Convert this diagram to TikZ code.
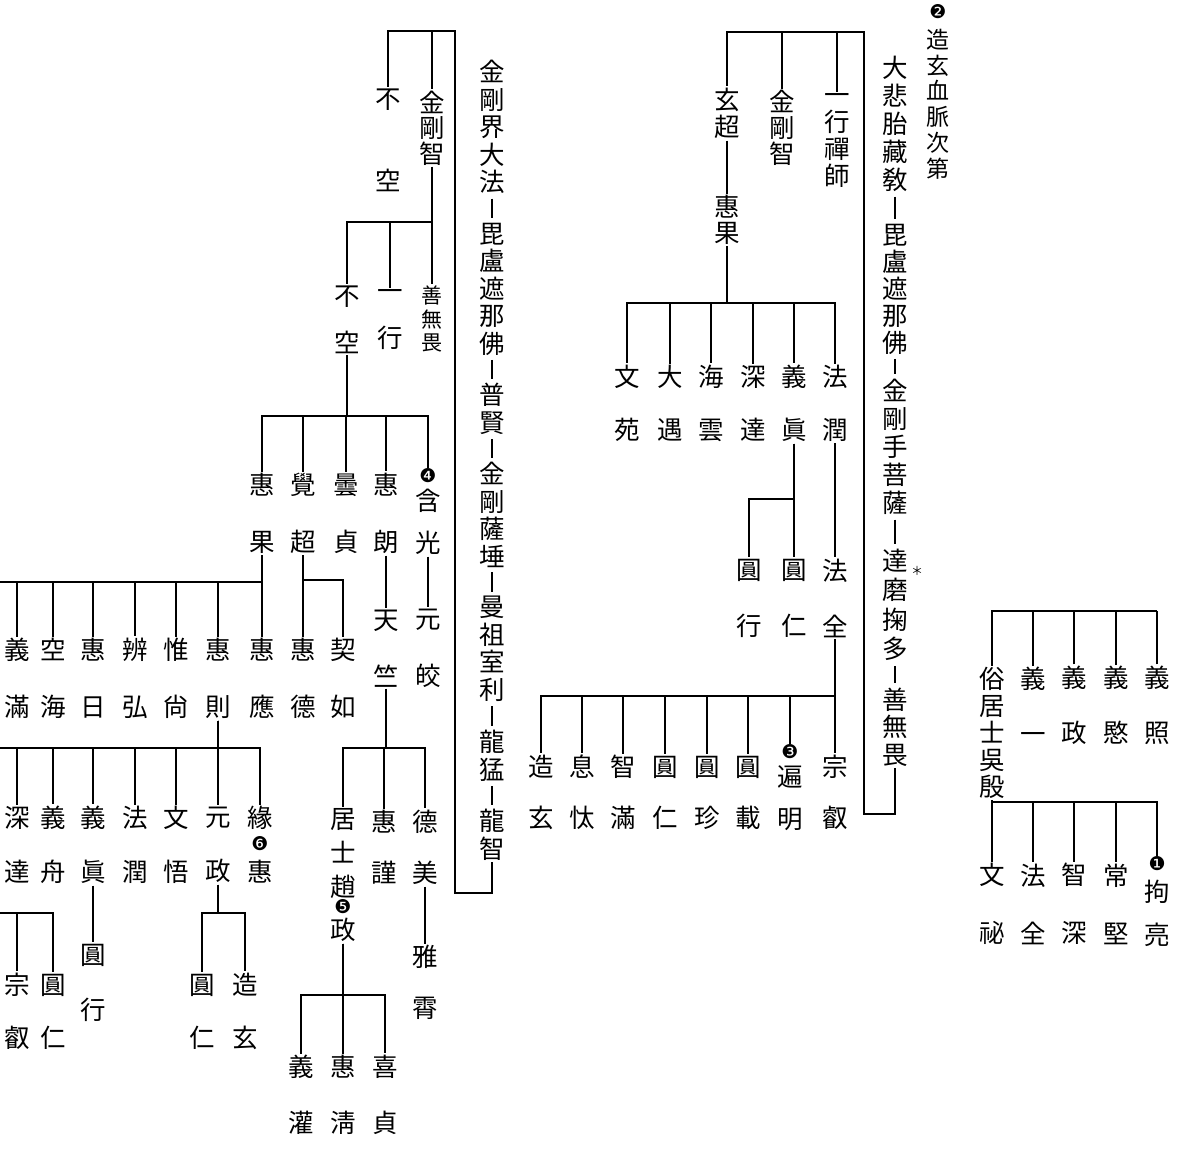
\documentclass[tikz,border=0pt]{standalone}
\usepackage{fontspec}
\newfontfamily\cjk{Noto Sans CJK JP}
\newfontfamily\dvs{DejaVu Sans}

\begin{document}
\begin{tikzpicture}[x=1pt,y=-1pt,line width=1.5pt,
  nm/.style={inner sep=1pt,align=center,font=\cjk\fontsize{25.5}{#1}\selectfont},
  nm/.default=27,
  num/.style={inner sep=0.5pt,font=\dvs\fontsize{19}{19}\selectfont},
  bar/.style={shorten <=3pt,shorten >=3pt}]
\fill[white] (0,0) rectangle (1177,1161);
\useasboundingbox (0,0) rectangle (1177,1161);

\node[num] (num2) at (938,12) {❷};
\node[nm=25.8,font=\cjk\fontsize{23}{25.8}\selectfont] (title) at (938,104) {造\\玄\\血\\脈\\次\\第};
\node[nm=28] (dabei) at (895,124) {大\\悲\\胎\\藏\\敎};
\node[nm] (pilu) at (895,289) {毘\\盧\\遮\\那\\佛};
\node[nm=28] (jshou) at (895,447) {金\\剛\\手\\菩\\薩};
\node[nm=29.5] (damo) at (895,605) {達\\磨\\掬\\多};
\node[inner sep=0pt,font=\cjk\fontsize{12}{12}\selectfont] (ast) at (917,571) {＊};
\node[nm=27.5] (shanw) at (895,727) {善\\無\\畏};
\node[nm] (xuanchao) at (727,113.5) {玄\\超};
\node[nm=26] (huiguoR) at (727,220) {惠\\果};
\node[nm=26] (jgzR) at (782,128) {金\\剛\\智};
\node[nm] (yixingcs) at (837,141) {一\\行\\禪\\師};
\node[nm=53] (wenyuan) at (627,403.5) {文\\苑};
\node[nm=53] (dayu) at (670,403.5) {大\\遇};
\node[nm=53] (haiyun) at (711,403.5) {海\\雲};
\node[nm=53] (shenda) at (753,403.5) {深\\達};
\node[nm=53] (yizhen) at (794,403.5) {義\\眞};
\node[nm=53] (farun) at (835,403.5) {法\\潤};
\node[nm=56] (yuanxingR) at (749,598) {圓\\行};
\node[nm=56] (yuanrenR) at (794,598) {圓\\仁};
\node[nm=56] (faquanR) at (835,598) {法\\全};
\node[nm=51] (zaoxuanR) at (541,792.5) {造\\玄};
\node[nm=51] (xitai) at (582,792.5) {息\\忲};
\node[nm=51] (zhiman) at (623,792.5) {智\\滿};
\node[nm=51] (yuanrenS) at (665,792.5) {圓\\仁};
\node[nm=51] (yuanzhen) at (707,792.5) {圓\\珍};
\node[nm=51] (yuanzai) at (748,792.5) {圓\\載};
\node[num] (num3) at (790,752) {❸};
\node[nm=42] (bianming) at (790,798) {遍\\明};
\node[nm=51] (zongruiR) at (835,792.5) {宗\\叡};

\node[nm] (wuyin) at (992,733) {俗\\居\\士\\吳\\殷};
\node[nm=55] (yiyi) at (1033,705.5) {義\\一};
\node[nm=55] (yizheng) at (1074,705.5) {義\\政};
\node[nm=55] (yimin) at (1116,705.5) {義\\愍};
\node[nm=55] (yizhao) at (1157,705.5) {義\\照};
\node[nm=58] (wenmi) at (992,904) {文\\祕};
\node[nm=58] (faquanB) at (1033,904) {法\\全};
\node[nm=58] (zhishen) at (1074,904) {智\\深};
\node[nm=58] (changjian) at (1116,904) {常\\堅};
\node[num] (num1) at (1157,864) {❶};
\node[nm=43] (juliang) at (1157,913) {拘\\亮};

\node[nm=27.5] (m1) at (492,127) {金\\剛\\界\\大\\法};
\node[nm=27.5] (m2) at (492,289) {毘\\盧\\遮\\那\\佛};
\node[nm=27.5] (m3) at (492,409) {普\\賢};
\node[nm=27.5] (m4) at (492,515) {金\\剛\\薩\\埵};
\node[nm=27.5] (m5) at (492,649) {曼\\祖\\室\\利};
\node[nm=27.5] (m6) at (492,756) {龍\\猛};
\node[nm=27.5] (m7) at (492,835) {龍\\智};
\node[nm=82] (bukong1) at (388,140) {不\\空};
\node[nm=25.5] (jgz) at (432,128) {金\\剛\\智};
\node[nm=47] (bukong2) at (347,319.5) {不\\空};
\node[nm=47] (yixing) at (390,319.5) {一\\行};
\node[nm=23.5,font=\cjk\fontsize{21}{23.5}\selectfont] (shanwuwei) at (432,319) {善\\無\\畏};
\node[nm=57] (huiguo) at (262,513.5) {惠\\果};
\node[nm=57] (juechao) at (303,513.5) {覺\\超};
\node[nm=57] (tanzhen) at (346,513.5) {曇\\貞};
\node[nm=57] (huilang) at (386,513.5) {惠\\朗};
\node[num] (num4) at (428,476) {❹};
\node[nm=42] (hanguang) at (428,522) {含\\光};
\node[nm=57] (yiman) at (17,678.5) {義\\滿};
\node[nm=57] (konghai) at (53,678.5) {空\\海};
\node[nm=57] (huiri) at (93,678.5) {惠\\日};
\node[nm=57] (bianhong) at (135,678.5) {辨\\弘};
\node[nm=57] (weishang) at (176,678.5) {惟\\尙};
\node[nm=57] (huize) at (218,678.5) {惠\\則};
\node[nm=57] (huiying) at (262,678.5) {惠\\應};
\node[nm=57] (huide) at (303,678.5) {惠\\德};
\node[nm=57] (qiru) at (343,678.5) {契\\如};
\node[nm=57] (tianzhu) at (386,648.5) {天\\竺};
\node[nm=57] (yuanjiao) at (428,648.5) {元\\皎};
\node[nm=34] (jushi) at (343,854) {居\\士\\趙};
\node[num] (num5) at (343,907) {❺};
\node[nm] (zheng) at (343,930) {政};
\node[nm=51] (huijin) at (384,847.5) {惠\\謹};
\node[nm=51] (demei) at (425,847.5) {德\\美};
\node[nm=51] (yaxiao) at (425,982.5) {雅\\霄};
\node[nm=56] (yiguan) at (301,1095) {義\\灌};
\node[nm=56] (huiqing) at (343,1095) {惠\\淸};
\node[nm=56] (xizhen) at (385,1095) {喜\\貞};
\node[nm=54] (shenda2) at (17,845) {深\\達};
\node[nm=54] (yizhou) at (53,845) {義\\舟};
\node[nm=54] (yizhen2) at (93,845) {義\\眞};
\node[nm=54] (farun2) at (135,845) {法\\潤};
\node[nm=54] (wenwu) at (176,845) {文\\悟};
\node[nm=54] (yuanzheng) at (218,845) {元\\政};
\node[nm=54] (yuanhui) at (260,845) {緣\\惠};
\node[num] (num6) at (260,844) {❻};
\node[nm=55] (yuanxing2) at (93,982.5) {圓\\行};
\node[nm=53] (zongrui2) at (17,1011.5) {宗\\叡};
\node[nm=53] (yuanren3) at (53,1011.5) {圓\\仁};
\node[nm=53] (yuanren4) at (202,1011.5) {圓\\仁};
\node[nm=53] (zaoxuan2) at (245,1011.5) {造\\玄};

\coordinate (rt) at (864,32);
\coordinate (rb) at (864,814);
\coordinate (b2) at (727,303);
\coordinate (b3) at (794,499);
\coordinate (b4) at (835,696);
\coordinate (tb) at (1157,611);
\coordinate (b5) at (992,802);
\coordinate (mt) at (455,31);
\coordinate (mb) at (455,893);
\coordinate (b6) at (432,222);
\coordinate (b7) at (347,416);
\coordinate (b8) at (262,582);
\coordinate (e8) at (0,582);
\coordinate (b9) at (303,580);
\coordinate (b10) at (386,748);
\coordinate (b11) at (343,995);
\coordinate (b12) at (218,748);
\coordinate (e12) at (0,748);
\coordinate (e13) at (0,913);
\coordinate (b14) at (218,913);

\foreach \a/\b in {dabei/pilu,pilu/jshou,jshou/damo,damo/shanw}
  \draw[bar] (\a.south) -- (\b.north);
\draw (shanw.south) |- (rb) -- (rt) -| (xuanchao.north);
\draw (rt) -| (jgzR.north);
\draw (rt) -| (yixingcs.north);
\draw (xuanchao.south) -- (huiguoR.north);
\foreach \c in {wenyuan,dayu,haiyun,shenda,yizhen,farun}
  \draw (huiguoR.south) -- (b2) -| (\c.north);
\foreach \c in {yuanxingR,yuanrenR}
  \draw (yizhen.south) -- (b3) -| (\c.north);
\draw (farun.south) -- (faquanR.north);
\foreach \c in {zaoxuanR,xitai,zhiman,yuanrenS,yuanzhen,yuanzai,num3,zongruiR}
  \draw (faquanR.south) -- (b4) -| (\c.north);

\draw (wuyin.north) |- (tb);
\foreach \c in {yiyi,yizheng,yimin,yizhao}
  \draw (\c.north) -- (\c.north |- tb);
\foreach \c in {wenmi,faquanB,zhishen,changjian,num1}
  \draw (wuyin.south) -- (b5) -| (\c.north);

\foreach \a/\b in {m1/m2,m2/m3,m3/m4,m4/m5,m5/m6,m6/m7}
  \draw[bar] (\a.south) -- (\b.north);
\draw (m7.south) |- (mb) -- (mt) -| (bukong1.north);
\draw (mt) -| (jgz.north);
\foreach \c in {bukong2,yixing,shanwuwei}
  \draw (jgz.south) -- (b6) -| (\c.north);
\foreach \c in {huiguo,juechao,tanzhen,huilang,num4}
  \draw (bukong2.south) -- (b7) -| (\c.north);
\draw (e8) -- (b8);
\foreach \c in {yiman,konghai,huiri,bianhong,weishang,huize,huiying}
  \draw (huiguo.south) -- (b8) -| (\c.north);
\foreach \c in {huide,qiru}
  \draw (juechao.south) -- (b9) -| (\c.north);
\draw (huilang.south) -- (tianzhu.north);
\draw (hanguang.south) -- (yuanjiao.north);
\foreach \c in {jushi,huijin,demei}
  \draw (tianzhu.south) -- (b10) -| (\c.north);
\draw (demei.south) -- (yaxiao.north);
\foreach \c in {yiguan,huiqing,xizhen}
  \draw (zheng.south) -- (b11) -| (\c.north);
\draw (e12) -- (b12);
\foreach \c in {shenda2,yizhou,yizhen2,farun2,wenwu,yuanzheng,yuanhui}
  \draw (huize.south) -- (b12) -| (\c.north);
\draw (yizhen2.south) -- (yuanxing2.north);
\draw (e13) -| (zongrui2.north);
\draw (e13) -| (yuanren3.north);
\foreach \c in {yuanren4,zaoxuan2}
  \draw (yuanzheng.south) -- (b14) -| (\c.north);
\end{tikzpicture}
\end{document}
